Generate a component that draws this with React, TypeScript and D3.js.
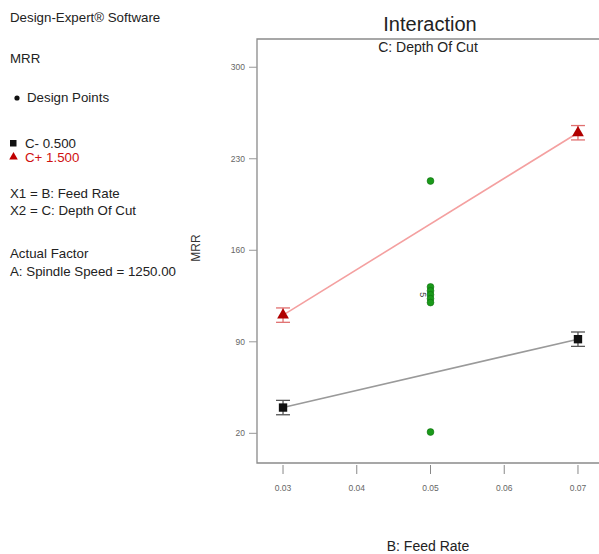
import React, { useRef, useEffect } from "react";
import * as d3 from "d3";

// feed rate levels (B) and MRR predictions for each depth-of-cut level (C)
const feedRates = [0.03, 0.07];
const cLowMRR = [39.7, 92];
const cHighMRR = [110.4, 249.9];
const errHalf = [5.5, 5.5];

// design points (centre runs and others at B = 0.05)
const designX = [0.05, 0.05, 0.05, 0.05, 0.05, 0.05, 0.05];
const designY = [213, 132, 129, 126, 123, 120, 21];

const xTicks = [0.03, 0.04, 0.05, 0.06, 0.07];
const yTicks = [20, 90, 160, 230, 300];

const legendLines = [
  { text: "Design-Expert® Software", y: 22, x: 10 },
  { text: "MRR", y: 63, x: 10 },
  { text: "Design Points", y: 102, x: 27 },
  { text: "C- 0.500", y: 148, x: 25 },
  { text: "C+ 1.500", y: 162, x: 25 },
  { text: "X1 = B: Feed Rate", y: 198, x: 10 },
  { text: "X2 = C: Depth Of Cut", y: 215, x: 10 },
  { text: "Actual Factor", y: 258, x: 10 },
  { text: "A: Spindle Speed = 1250.00", y: 276, x: 10 },
];

const App = () => {
  const svgRef = useRef(null);

  useEffect(() => {
    const svg = d3.select(svgRef.current);
    svg.selectAll("*").remove();
    const font = "'Liberation Sans', Arial, sans-serif";

    // plot box
    const left = 257, top = 39, bottom = 463, right = 604;
    const x = d3.scaleLinear().domain([0.02647, 0.07353]).range([left, right]);
    const y = d3.scaleLinear().domain([-2.7, 321.6]).range([bottom, top]);

    // left legend / info block
    const info = svg.append("g").attr("font-family", font).attr("font-size", 13.3);
    legendLines.forEach((l) => {
      const isRed = l.text.startsWith("C+");
      info.append("text")
        .attr("x", l.x)
        .attr("y", l.y)
        .attr("fill", isRed ? "#d01010" : "#222")
        .text(l.text);
    });
    info.append("circle").attr("cx", 17).attr("cy", 98).attr("r", 2.6).attr("fill", "#111");
    info.append("rect").attr("x", 10).attr("y", 140).attr("width", 6.5).attr("height", 6.5).attr("fill", "#111");
    info.append("path")
      .attr("d", d3.symbol().type(d3.symbolTriangle).size(32)())
      .attr("transform", "translate(13.5,157)")
      .attr("fill", "#c00000");

    // frame (top and left), bottom axis line
    svg.append("path")
      .attr("d", `M${right},${top}H${left}V${bottom}H${right}`)
      .attr("fill", "none")
      .attr("stroke", "#8a8a8a")
      .attr("stroke-width", 1.3);

    // y axis ticks
    const yAxis = svg.append("g").attr("font-family", font).attr("font-size", 8.5).attr("fill", "#666");
    yTicks.forEach((t) => {
      yAxis.append("line")
        .attr("x1", left - 8).attr("x2", left)
        .attr("y1", y(t)).attr("y2", y(t))
        .attr("stroke", "#999");
      yAxis.append("text")
        .attr("x", left - 12).attr("y", y(t) + 3)
        .attr("text-anchor", "end")
        .text(t);
    });

    // x axis ticks
    const xAxis = svg.append("g").attr("font-family", font).attr("font-size", 8.5).attr("fill", "#666");
    xTicks.forEach((t) => {
      xAxis.append("line")
        .attr("x1", x(t)).attr("x2", x(t))
        .attr("y1", bottom + 2).attr("y2", bottom + 11)
        .attr("stroke", "#888");
      xAxis.append("text")
        .attr("x", x(t)).attr("y", 491)
        .attr("text-anchor", "middle")
        .text(d3.format(".2f")(t));
    });

    // titles
    svg.append("text").attr("x", 430).attr("y", 31).attr("text-anchor", "middle")
      .attr("font-family", font).attr("font-size", 20).attr("fill", "#222").text("Interaction");
    svg.append("text").attr("x", 428).attr("y", 52).attr("text-anchor", "middle")
      .attr("font-family", font).attr("font-size", 14).attr("fill", "#222").text("C: Depth Of Cut");
    svg.append("text").attr("x", 428).attr("y", 551).attr("text-anchor", "middle")
      .attr("font-family", font).attr("font-size", 14).attr("fill", "#222").text("B: Feed Rate");
    svg.append("text").attr("transform", "translate(200,248) rotate(-90)").attr("text-anchor", "middle")
      .attr("font-family", font).attr("font-size", 12).attr("fill", "#333").text("MRR");

    // interaction lines
    const line = d3.line().x((d) => x(d[0])).y((d) => y(d[1]));
    const series = [
      { vals: cLowMRR, lineColor: "#9a9a9a", mark: "#111", cap: "#555", sym: d3.symbolSquare, size: 70 },
      { vals: cHighMRR, lineColor: "#f4a0a0", mark: "#b00000", cap: "#e07070", sym: d3.symbolTriangle, size: 60 },
    ];
    series.forEach((s) => {
      const pts = feedRates.map((f, i) => [f, s.vals[i]]);
      svg.append("path").attr("d", line(pts)).attr("fill", "none")
        .attr("stroke", s.lineColor).attr("stroke-width", 1.6);
      pts.forEach((p, i) => {
        const cx = x(p[0]);
        const y1 = y(p[1] + errHalf[i]), y2 = y(p[1] - errHalf[i]);
        const g = svg.append("g").attr("stroke", s.cap).attr("stroke-width", 1.3);
        g.append("line").attr("x1", cx).attr("x2", cx).attr("y1", y1).attr("y2", y2);
        g.append("line").attr("x1", cx - 7).attr("x2", cx + 7).attr("y1", y1).attr("y2", y1);
        g.append("line").attr("x1", cx - 7).attr("x2", cx + 7).attr("y1", y2).attr("y2", y2);
        svg.append("path")
          .attr("d", d3.symbol().type(s.sym).size(s.size)())
          .attr("transform", `translate(${cx},${y(p[1])})`)
          .attr("fill", s.mark);
      });
    });

    // design points
    designX.forEach((dx, i) => {
      svg.append("circle").attr("cx", x(dx)).attr("cy", y(designY[i])).attr("r", 3.4)
        .attr("fill", "#1a9a1a").attr("stroke", "#0c6e0c").attr("stroke-width", 0.6);
    });
    // replicate count label
    svg.append("text")
      .attr("transform", `translate(${x(0.05) - 11},${y(126)}) rotate(90)`)
      .attr("text-anchor", "middle")
      .attr("font-family", font).attr("font-size", 9).attr("fill", "#444")
      .text("5");
  }, []);

  return (
    <svg ref={svgRef} width="599" height="554"
      style={{ position: "absolute", left: 0, top: 0, background: "#fff" }} />
  );
};

export default App;
